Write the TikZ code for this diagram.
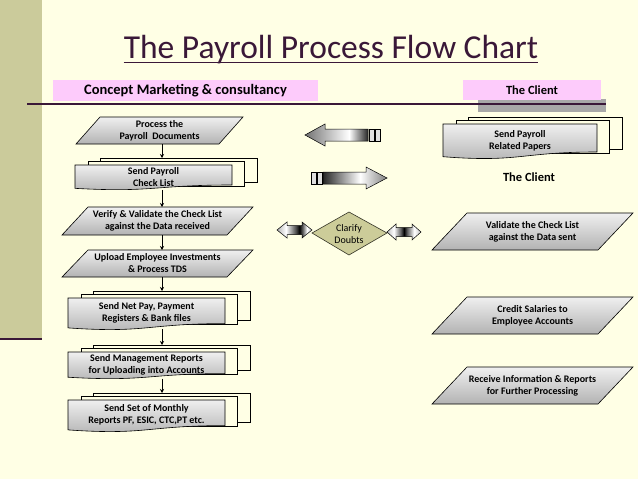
\documentclass[tikz,border=0pt]{standalone}
\usepackage{fontspec}
\setmainfont{Carlito}
\usetikzlibrary{shadings,arrows.meta}
\definecolor{bgc}{HTML}{FFFFE5}
\definecolor{barc}{HTML}{CBCB9B}
\definecolor{ttlc}{HTML}{3A1838}
\definecolor{pinkc}{HTML}{FDCBFB}
\definecolor{shadc}{HTML}{A8A8A8}
\definecolor{diac}{HTML}{CCCC99}
\pgfdeclarehorizontalshading{metalL}{100bp}{color(0bp)=(black!55); color(25bp)=(black!55); color(60bp)=(white); color(75bp)=(black!85); color(100bp)=(black!85)}
\pgfdeclarehorizontalshading{metalR}{100bp}{color(0bp)=(black!85); color(25bp)=(black!85); color(54bp)=(white); color(75bp)=(black!50); color(100bp)=(black!50)}
\pgfdeclarehorizontalshading{dblA}{100bp}{color(0bp)=(black!30); color(25bp)=(black!30); color(38bp)=(white); color(52bp)=(black!70); color(57bp)=(black); color(62bp)=(black!60); color(68bp)=(white); color(75bp)=(black!25); color(100bp)=(black!25)}
\pgfdeclarehorizontalshading{dblB}{100bp}{color(0bp)=(black!25); color(25bp)=(black!25); color(35bp)=(white); color(45bp)=(black!60); color(50bp)=(black); color(55bp)=(black!60); color(65bp)=(white); color(75bp)=(black!25); color(100bp)=(black!25)}
\tikzset{
  lbl/.style={font=\bfseries\fontsize{10}{12}\selectfont, align=center, inner sep=0pt},
  parafill/.style={draw=black, line width=0.6pt, top color=gray!12, bottom color=gray!60},
  frontpage/.style={draw=black, line width=0.6pt, top color=gray!12, bottom color=gray!60},
  backpage/.style={draw=black, line width=0.6pt, fill=bgc},
  flow/.style={-{Stealth[length=4pt,width=4pt]}, line width=0.8pt},
  stripe/.style={draw=black, line width=0.5pt, fill=gray!25},
  blockarrow/.style={draw=black, line width=0.5pt, shade}
}
\newcommand\mypara[7]{%
  \path[parafill] (#2+#6,#4) -- (#3,#4) -- (#3-#6,#5) -- (#2,#5) -- cycle;
  \node[lbl] (#1) at ({(#2+#3)/2},{(#4+#5)/2}) {#7};
  \coordinate (#1-top) at (162,#4);
  \coordinate (#1-bot) at (162,#5);
}
\newcommand\mydoc[6]{%
  \pgfmathsetmacro\dXa{#2}\pgfmathsetmacro\dXb{#2+#3}%
  \pgfmathsetmacro\dYt{#4}\pgfmathsetmacro\dYr{#4+0.80*#5}%
  \pgfmathsetmacro\dYl{#4+0.934*#5}\pgfmathsetmacro\dYc{#4+1.107*#5}%
  \pgfmathsetmacro\dXm{#2+0.5*#3}%
  \path[backpage] (\dXa+25,\dYt-7) rectangle (\dXb+25,\dYr-3);
  \path[backpage] (\dXa+13,\dYt-3.5) rectangle (\dXb+12,\dYr+1);
  \path[frontpage] (\dXa,\dYt) -- (\dXb,\dYt) -- (\dXb,\dYr) .. controls (\dXm,\dYr) and (\dXm,\dYc) .. (\dXa,\dYl) -- cycle;
  \node[lbl] (#1) at (\dXm,{(\dYt+\dYl)/2}) {#6};
  \coordinate (#1-top) at (162,\dYt-7);
  \coordinate (#1-bot) at (162,\dYl+1.5);
}
\begin{document}
\begin{tikzpicture}[x=1pt,y=-1pt]
\useasboundingbox (0,0) rectangle (638,479);
\fill[bgc] (0,0) rectangle (638,479);
\fill[barc] (0,0) rectangle (42,340);
\draw[ttlc, line width=2pt] (0,339) -- (42,339);

% title
\node[anchor=base, inner sep=0pt, text=ttlc, font=\fontsize{33.5}{38}\selectfont] (title) at (331,58) {The Payroll Process Flow Chart};
\draw[ttlc, line width=1.3pt] ([yshift=-4.5pt]title.base west) -- ([yshift=-4.5pt]title.base east);

% headers
\fill[shadc] (478,99) rectangle (606,112);
\draw[ttlc, line width=1.5pt] (27,104) -- (606,104);
\node[fill=pinkc, minimum width=265pt, minimum height=21pt, inner sep=0pt, font=\bfseries\fontsize{14.5}{16}\selectfont] (cm) at (185.5,90.5) {Concept Marketing \& consultancy};
\node[fill=pinkc, minimum width=138pt, minimum height=20pt, inner sep=0pt, font=\bfseries\fontsize{12.5}{14}\selectfont] (client) at (532,90) {The Client};

% left column
\mypara{p1}{76}{243}{117}{144}{24}{Process the\\Payroll\ \ Documents}
\mydoc{d1}{75}{157}{165}{25}{Send Payroll\\Check List}
\mypara{p2}{62}{253}{207}{235}{26}{Verify \& Validate the Check List\\against the Data received}
\mypara{p3}{62}{253}{250}{277}{26}{Upload Employee Investments\\\& Process TDS}
\mydoc{d2}{68}{157}{298}{32}{Send Net Pay, Payment\\Registers \& Bank files}
\mydoc{d3}{68}{157}{352}{27}{Send Management Reports\\for Uploading into Accounts}
\mydoc{d4}{68}{157}{400}{32}{Send Set of Monthly\\Reports PF, ESIC, CTC,PT etc.}

\draw[flow] (p1-bot) -- (d1-top);
\draw[flow] (d1-bot) -- (p2-top);
\draw[flow] (p2-bot) -- (p3-top);
\draw[flow] (p3-bot) -- (d2-top);
\draw[flow] (d2-bot) -- (d3-top);
\draw[flow] (d3-bot) -- (d4-top);

% right column
\mydoc{d5}{443}{154}{124}{35}{Send Payroll\\Related Papers}
\node[font=\bfseries\fontsize{12.5}{14}\selectfont, inner sep=0pt] (client2) at (529,177) {The Client};
\mypara{v1}{432}{633}{213}{250}{35}{Validate the Check List\\against the Data sent}
\mypara{c1}{432}{633}{297}{334}{35}{Credit Salaries to\\Employee Accounts}
\mypara{r1}{432}{633}{367}{404}{35}{Receive Information \& Reports\\for Further Processing}

% block arrows
\path[blockarrow, shading=metalL] (305,135) -- (325,124) -- (325,129) -- (368,129) -- (368,141) -- (325,141) -- (325,146) -- cycle;
\path[stripe] (369,129) rectangle (374,141);
\path[stripe] (375,129) rectangle (380,141);

\path[blockarrow, shading=metalR] (387,178) -- (366,167) -- (366,172) -- (323,172) -- (323,184) -- (366,184) -- (366,189) -- cycle;
\path[stripe] (311,172) rectangle (316,184);
\path[stripe] (317,172) rectangle (322,184);

% diamond
\path[draw=black!75!diac, fill=diac, line width=0.6pt] (312,233) -- (349,212) -- (387,233) -- (349,255) -- cycle;
\node[font=\fontsize{10}{12}\selectfont, align=center, inner sep=0pt] (cd) at (349,234) {Clarify\\Doubts};

% double arrows
\path[blockarrow, shading=dblA] (277,230) -- (287,222) -- (287,225.5) -- (302,225.5) -- (302,222) -- (312,230) -- (302,238) -- (302,234.5) -- (287,234.5) -- (287,238) -- cycle;
\path[blockarrow, shading=dblB] (387,232) -- (396,224) -- (396,227.5) -- (412,227.5) -- (412,224) -- (421,232) -- (412,240) -- (412,236.5) -- (396,236.5) -- (396,240) -- cycle;
\end{tikzpicture}
\end{document}
